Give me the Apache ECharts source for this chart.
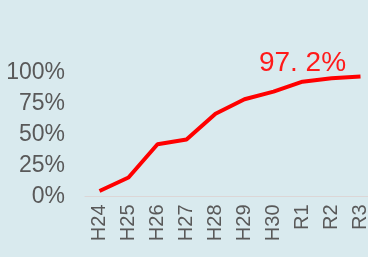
<!DOCTYPE html>
<html>
<head>
    <meta charset="utf-8">
    <title>chart</title>
    <script src="https://cdn.jsdelivr.net/npm/echarts@6/dist/echarts.min.js"></script>
    <style>
        html, body { margin: 0; padding: 0; background: #d9eaee; }
    </style>
</head>
<body>
    <div id="main" style="width: 368px;height:257px;"></div>
    <script>
        // 年度
        var categories = ['H24', 'H25', 'H26', 'H27', 'H28', 'H29', 'H30', 'R1', 'R2', 'R3'];
        // 割合（%）
        var rates = [4.5, 15.4, 42.3, 46.1, 67, 78.7, 84.9, 93, 95.8, 97.2];
        var yTicks = [0, 25, 50, 75, 100];

        var myChart = echarts.init(document.getElementById('main'));

        var seriesData = rates.map(function (v, i) {
            if (i === rates.length - 1) {
                return {
                    value: v,
                    label: {
                        show: true,
                        position: 'top',
                        offset: [-58, 6],
                        formatter: '97. 2%',
                        color: '#ff1a1a',
                        fontSize: 28,
                        fontFamily: 'Liberation Sans, Arial, sans-serif'
                    }
                };
            }
            return v;
        });

        var option = {
            backgroundColor: '#d9eaee',
            animation: false,
            grid: { left: 85, top: 73, width: 290, height: 123.5, outerBoundsMode: 'none', containLabel: false },
            xAxis: {
                type: 'category',
                data: categories,
                boundaryGap: true,
                axisLine: { lineStyle: { color: '#dcd6d6', width: 1 } },
                axisTick: { show: false },
                axisLabel: {
                    rotate: 90,
                    margin: 8,
                    color: '#595959',
                    fontSize: 20,
                    fontFamily: 'Liberation Sans, Arial, sans-serif'
                }
            },
            yAxis: {
                type: 'value',
                min: yTicks[0],
                max: yTicks[yTicks.length - 1],
                interval: 25,
                splitLine: { show: false },
                axisLine: { show: false },
                axisTick: { show: false },
                axisLabel: {
                    margin: 20,
                    color: '#595959',
                    fontSize: 23,
                    fontFamily: 'Liberation Sans, Arial, sans-serif',
                    formatter: '{value}%'
                }
            },
            series: [{
                type: 'line',
                data: seriesData,
                symbol: 'circle',
                symbolSize: 0,
                showSymbol: true,
                lineStyle: { color: '#ff0000', width: 4 },
                itemStyle: { color: '#ff0000' }
            }]
        };

        myChart.setOption(option);
    </script>
</body>
</html>
